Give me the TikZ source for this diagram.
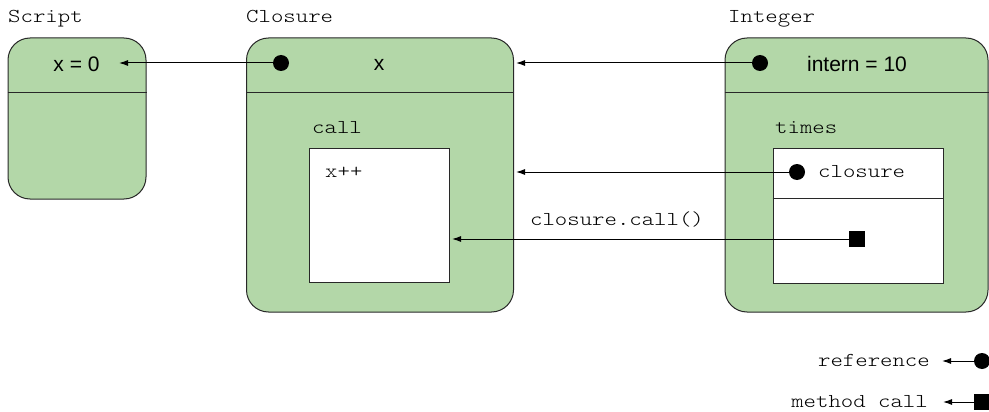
\documentclass[tikz,border=0pt]{standalone}
\usepackage{fontspec}
\setmainfont{Liberation Sans}
\newfontfamily\mono[FakeStretch=1.2]{Latin Modern Mono Light}
\usetikzlibrary{arrows.meta}
\definecolor{boxgreen}{RGB}{179,215,168}
\definecolor{edge}{RGB}{40,40,40}
\begin{document}
\begin{tikzpicture}[x=1pt,y=-1pt,
  obj/.style={draw=edge, fill=boxgreen, rounded corners=22pt, line width=1pt, inner sep=0pt},
  method/.style={draw=edge, fill=white, line width=1pt, inner sep=0pt},
  divider/.style={draw=edge, line width=1pt},
  lbl/.style={font=\mono\fontsize{19.7}{22}\selectfont, inner sep=0pt, anchor=base west},
  val/.style={font=\fontsize{21}{24}\selectfont, inner sep=0pt, anchor=base},
  refdot/.style={circle, fill=black, minimum size=16pt, inner sep=0pt},
  calldot/.style={rectangle, fill=black, minimum size=16pt, inner sep=0pt},
  conn/.style={line width=1pt, -{Latex[length=9pt,width=6pt]}},
]
\useasboundingbox (0,0) rectangle (989,412);

% object titles
\node[lbl] (tscript) at (8,23) {Script};
\node[lbl] (tclosure) at (246,23) {Closure};
\node[lbl] (tinteger) at (728,23) {Integer};

% Script object
\node[obj, minimum width=138pt, minimum height=161pt] (script) at (77,118.5) {};
\draw[divider] (script.west |- 0,93) -- (script.east |- 0,93);
\node[val] (xval) at (76.5,72) {x = 0};

% Closure object
\node[obj, minimum width=267pt, minimum height=274pt] (closure) at (380,175) {};
\draw[divider] (closure.west |- 0,93) -- (closure.east |- 0,93);
\node[val] (xref) at (379,71) {x};
\node[lbl] (tcall) at (312,133) {call};
\node[method, minimum width=140pt, minimum height=134pt] (callbox) at (379,215) {};
\node[lbl] (xpp) at (325,177) {x++};

% Integer object
\node[obj, minimum width=263pt, minimum height=274pt] (integer) at (856.5,175) {};
\draw[divider] (integer.west |- 0,93) -- (integer.east |- 0,93);
\node[val] (intern) at (857,72) {intern = 10};
\node[lbl] (ttimes) at (775,133) {times};
\node[method, minimum width=170pt, minimum height=135pt] (timesbox) at (858,215.5) {};
\draw[divider] (timesbox.west |- 0,198) -- (timesbox.east |- 0,198);
\node[lbl] (tclref) at (818,177) {closure};

% connector end points
\coordinate (xtip) at (119,63);
\coordinate (closuretip) at (516,63);
\coordinate (closuretip2) at (516,172);
\coordinate (calltip) at (452,239);

% references and calls
\node[refdot] (cdot) at (281,63) {};
\node[refdot] (idot) at (760,63) {};
\node[refdot] (tdot) at (797,172) {};
\node[calldot] (tsq) at (857,239) {};
\draw[conn] (cdot) -- (xtip);
\draw[conn] (idot) -- (closuretip);
\draw[conn] (tdot) -- (closuretip2);
\draw[conn] (tsq) -- (calltip);
\node[lbl, anchor=base] (callname) at (617,225) {closure.call()};

% legend
\node[lbl, anchor=base east] (legref) at (930,366) {reference};
\node[lbl, anchor=base east] (legcall) at (928,407) {method call};
\node[refdot] (ldot) at (982,361) {};
\node[calldot] (lsq) at (982,402) {};
\coordinate (lreftip) at (942,361);
\coordinate (lcalltip) at (943,402);
\draw[conn] (ldot) -- (lreftip);
\draw[conn] (lsq) -- (lcalltip);
\end{tikzpicture}
\end{document}
